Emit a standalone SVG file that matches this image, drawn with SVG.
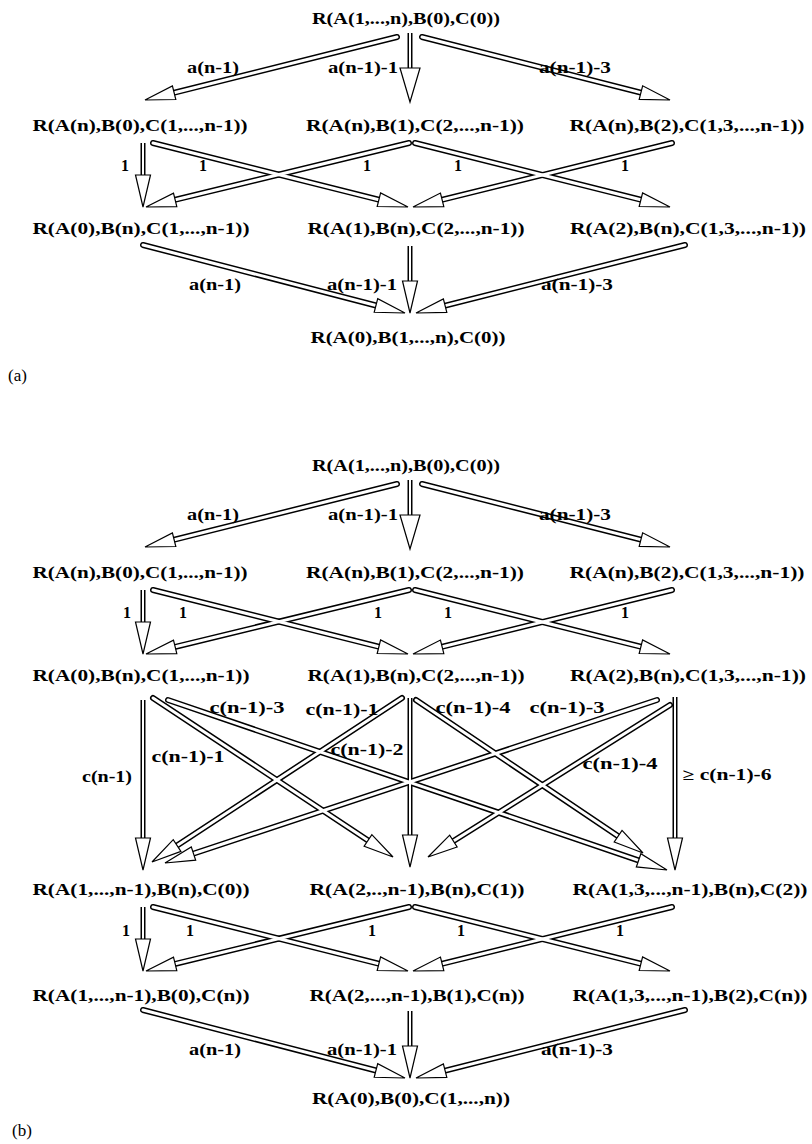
<svg xmlns="http://www.w3.org/2000/svg" width="812" height="1144" viewBox="0 0 812 1144">
  <style>
    text { font-family: "Liberation Serif", "Times New Roman", serif; font-size: 16px; font-weight: bold; fill: #000; }
    .n { text-anchor: middle; }
    .l { text-anchor: middle; }
    .tag { font-weight: normal; font-size: 17px; }
    .o { stroke: #000; stroke-width: 6; stroke-linecap: round; fill: none; }
    .ov { stroke: #000; stroke-width: 5; stroke-linecap: butt; fill: none; }
    .i { stroke: #fff; stroke-width: 3; stroke-linecap: round; fill: none; }
    .iv { stroke: #fff; stroke-width: 2; stroke-linecap: butt; fill: none; }
    .hd { fill: none; stroke: none; marker-end: url(#hd); }
    .hv { fill: none; stroke: none; marker-end: url(#hv); }
    .hs { fill: none; stroke: none; marker-end: url(#hs); }
  </style>
  <defs>
    <!-- hollow arrowheads: tip at the end of the path -->
    <marker id="hd" markerUnits="userSpaceOnUse" orient="auto" overflow="visible" refX="0" refY="0" markerWidth="1" markerHeight="1">
      <path d="M0,0 L-30,-7 L-30,7 Z" fill="#fff" stroke="#000" stroke-width="1.2"/>
    </marker>
    <marker id="hv" markerUnits="userSpaceOnUse" orient="auto" overflow="visible" refX="0" refY="0" markerWidth="1" markerHeight="1">
      <path d="M0,0 L-34,-10 L-34,10 Z" fill="#fff" stroke="#000" stroke-width="1.2"/>
    </marker>
    <marker id="hs" markerUnits="userSpaceOnUse" orient="auto" overflow="visible" refX="0" refY="0" markerWidth="1" markerHeight="1">
      <path d="M0,0 L-32,-7.5 L-32,7.5 Z" fill="#fff" stroke="#000" stroke-width="1.2"/>
    </marker>
  </defs>
  <rect width="812" height="1144" fill="#fff"/>

  <g id="connectors">
    <!-- shaft outlines -->
    <g id="shaft-outlines">
      <!-- (a) -->
      <line class="o" x1="397" y1="37" x2="168.3" y2="94.2"/>
      <line class="ov" x1="410" y1="33" x2="410" y2="72"/>
      <line class="o" x1="422" y1="37" x2="646.7" y2="94.1"/>
      <line class="ov" x1="143" y1="143" x2="143" y2="179"/>
      <line class="o" x1="153" y1="143" x2="384.7" y2="201.2"/>
      <line class="o" x1="409" y1="143" x2="169.3" y2="201.2"/>
      <line class="o" x1="415" y1="143" x2="646.7" y2="201.2"/>
      <line class="o" x1="672" y1="143" x2="436.3" y2="201.2"/>
      <line class="o" x1="143" y1="245" x2="381.8" y2="307"/>
      <line class="ov" x1="410" y1="246" x2="410" y2="285"/>
      <line class="o" x1="685" y1="245" x2="439.3" y2="307.1"/>
      <!-- (b) -->
      <line class="o" x1="397" y1="484" x2="168.3" y2="541.2"/>
      <line class="ov" x1="410" y1="480" x2="410" y2="519"/>
      <line class="o" x1="422" y1="484" x2="646.7" y2="541.1"/>
      <line class="ov" x1="143" y1="590" x2="143" y2="626"/>
      <line class="o" x1="153" y1="590" x2="384.7" y2="648.2"/>
      <line class="o" x1="409" y1="590" x2="169.3" y2="648.3"/>
      <line class="o" x1="415" y1="590" x2="646.7" y2="648.2"/>
      <line class="o" x1="672" y1="590" x2="436.3" y2="648.2"/>
      <line class="ov" x1="143" y1="700" x2="143" y2="842"/>
      <line class="ov" x1="410" y1="698" x2="410" y2="839"/>
      <line class="ov" x1="675" y1="697" x2="675" y2="842"/>
      <line class="o" x1="153" y1="698" x2="373" y2="843.7"/>
      <line class="o" x1="168" y1="700" x2="644.3" y2="862.3"/>
      <line class="o" x1="402" y1="698" x2="172.1" y2="848.8"/>
      <line class="o" x1="416" y1="700" x2="623.1" y2="839.6"/>
      <line class="o" x1="657" y1="700" x2="187.8" y2="855.5"/>
      <line class="o" x1="670" y1="705" x2="448.3" y2="844.2"/>
      <line class="ov" x1="143" y1="907" x2="143" y2="943"/>
      <line class="o" x1="153" y1="907" x2="384.7" y2="965.2"/>
      <line class="o" x1="409" y1="907" x2="169.3" y2="965.3"/>
      <line class="o" x1="415" y1="907" x2="646.7" y2="965.2"/>
      <line class="o" x1="672" y1="907" x2="436.3" y2="965.2"/>
      <line class="o" x1="143" y1="1010" x2="381.8" y2="1072"/>
      <line class="ov" x1="410" y1="1011" x2="410" y2="1050"/>
      <line class="o" x1="685" y1="1010" x2="439.3" y2="1072.1"/>
    </g>
    <!-- shaft interiors -->
    <g id="shaft-interiors">
      <line class="i" x1="397" y1="37" x2="168.3" y2="94.2"/>
      <line class="iv" x1="410" y1="33" x2="410" y2="72"/>
      <line class="i" x1="422" y1="37" x2="646.7" y2="94.1"/>
      <line class="iv" x1="143" y1="143" x2="143" y2="179"/>
      <line class="i" x1="153" y1="143" x2="384.7" y2="201.2"/>
      <line class="i" x1="409" y1="143" x2="169.3" y2="201.2"/>
      <line class="i" x1="415" y1="143" x2="646.7" y2="201.2"/>
      <line class="i" x1="672" y1="143" x2="436.3" y2="201.2"/>
      <line class="i" x1="143" y1="245" x2="381.8" y2="307"/>
      <line class="iv" x1="410" y1="246" x2="410" y2="285"/>
      <line class="i" x1="685" y1="245" x2="439.3" y2="307.1"/>
      <line class="i" x1="397" y1="484" x2="168.3" y2="541.2"/>
      <line class="iv" x1="410" y1="480" x2="410" y2="519"/>
      <line class="i" x1="422" y1="484" x2="646.7" y2="541.1"/>
      <line class="iv" x1="143" y1="590" x2="143" y2="626"/>
      <line class="i" x1="153" y1="590" x2="384.7" y2="648.2"/>
      <line class="i" x1="409" y1="590" x2="169.3" y2="648.3"/>
      <line class="i" x1="415" y1="590" x2="646.7" y2="648.2"/>
      <line class="i" x1="672" y1="590" x2="436.3" y2="648.2"/>
      <line class="iv" x1="143" y1="700" x2="143" y2="842"/>
      <line class="iv" x1="410" y1="698" x2="410" y2="839"/>
      <line class="iv" x1="675" y1="697" x2="675" y2="842"/>
      <line class="i" x1="153" y1="698" x2="373" y2="843.7"/>
      <line class="i" x1="168" y1="700" x2="644.3" y2="862.3"/>
      <line class="i" x1="402" y1="698" x2="172.1" y2="848.8"/>
      <line class="i" x1="416" y1="700" x2="623.1" y2="839.6"/>
      <line class="i" x1="657" y1="700" x2="187.8" y2="855.5"/>
      <line class="i" x1="670" y1="705" x2="448.3" y2="844.2"/>
      <line class="iv" x1="143" y1="907" x2="143" y2="943"/>
      <line class="i" x1="153" y1="907" x2="384.7" y2="965.2"/>
      <line class="i" x1="409" y1="907" x2="169.3" y2="965.3"/>
      <line class="i" x1="415" y1="907" x2="646.7" y2="965.2"/>
      <line class="i" x1="672" y1="907" x2="436.3" y2="965.2"/>
      <line class="i" x1="143" y1="1010" x2="381.8" y2="1072"/>
      <line class="iv" x1="410" y1="1011" x2="410" y2="1050"/>
      <line class="i" x1="685" y1="1010" x2="439.3" y2="1072.1"/>
    </g>
    <!-- arrowheads -->
    <g id="heads">
      <path class="hd" d="M397,37 L145,100"/>
      <path class="hv" d="M410,33 L410,102"/>
      <path class="hd" d="M422,37 L670,100"/>
      <path class="hs" d="M143,143 L143,207"/>
      <path class="hd" d="M153,143 L408,207"/>
      <path class="hd" d="M409,143 L146,207"/>
      <path class="hd" d="M415,143 L670,207"/>
      <path class="hd" d="M672,143 L413,207"/>
      <path class="hd" d="M143,245 L405,313"/>
      <path class="hs" d="M410,246 L410,313"/>
      <path class="hd" d="M685,245 L416,313"/>
      <path class="hd" d="M397,484 L145,547"/>
      <path class="hv" d="M410,480 L410,549"/>
      <path class="hd" d="M422,484 L670,547"/>
      <path class="hs" d="M143,590 L143,654"/>
      <path class="hd" d="M153,590 L408,654"/>
      <path class="hd" d="M409,590 L146,654"/>
      <path class="hd" d="M415,590 L670,654"/>
      <path class="hd" d="M672,590 L413,654"/>
      <path class="hs" d="M143,700 L143,870"/>
      <path class="hs" d="M410,698 L410,867"/>
      <path class="hs" d="M675,697 L675,870"/>
      <path class="hd" d="M153,698 L393,857"/>
      <path class="hd" d="M168,700 L667,870"/>
      <path class="hd" d="M402,698 L152,862"/>
      <path class="hd" d="M416,700 L643,853"/>
      <path class="hd" d="M657,700 L165,863"/>
      <path class="hd" d="M670,705 L428,857"/>
      <path class="hs" d="M143,907 L143,971"/>
      <path class="hd" d="M153,907 L408,971"/>
      <path class="hd" d="M409,907 L146,971"/>
      <path class="hd" d="M415,907 L670,971"/>
      <path class="hd" d="M672,907 L413,971"/>
      <path class="hd" d="M143,1010 L405,1078"/>
      <path class="hs" d="M410,1011 L410,1078"/>
      <path class="hd" d="M685,1010 L416,1078"/>
    </g>
    <!-- connector labels -->
    <g id="edge-labels">
      <text class="l" x="213" y="73" textLength="52" lengthAdjust="spacingAndGlyphs">a(n-1)</text>
      <text class="l" x="363" y="73" textLength="70" lengthAdjust="spacingAndGlyphs">a(n-1)-1</text>
      <text class="l" x="575" y="73" textLength="72" lengthAdjust="spacingAndGlyphs">a(n-1)-3</text>
      <text class="l" x="125" y="171">1</text>
      <text class="l" x="203" y="171">1</text>
      <text class="l" x="367" y="171">1</text>
      <text class="l" x="458" y="171">1</text>
      <text class="l" x="625" y="171">1</text>
      <text class="l" x="215" y="290" textLength="52" lengthAdjust="spacingAndGlyphs">a(n-1)</text>
      <text class="l" x="362" y="290" textLength="70" lengthAdjust="spacingAndGlyphs">a(n-1)-1</text>
      <text class="l" x="577" y="290" textLength="72" lengthAdjust="spacingAndGlyphs">a(n-1)-3</text>

      <text class="l" x="213" y="520" textLength="52" lengthAdjust="spacingAndGlyphs">a(n-1)</text>
      <text class="l" x="363" y="520" textLength="70" lengthAdjust="spacingAndGlyphs">a(n-1)-1</text>
      <text class="l" x="575" y="520" textLength="72" lengthAdjust="spacingAndGlyphs">a(n-1)-3</text>
      <text class="l" x="127" y="618">1</text>
      <text class="l" x="183" y="618">1</text>
      <text class="l" x="378" y="618">1</text>
      <text class="l" x="448" y="618">1</text>
      <text class="l" x="625" y="618">1</text>
      <text class="l" x="107" y="782" textLength="50" lengthAdjust="spacingAndGlyphs">c(n-1)</text>
      <text class="l" x="188" y="762" textLength="73" lengthAdjust="spacingAndGlyphs">c(n-1)-1</text>
      <text class="l" x="247" y="713" textLength="75" lengthAdjust="spacingAndGlyphs">c(n-1)-3</text>
      <text class="l" x="342" y="715" textLength="73" lengthAdjust="spacingAndGlyphs">c(n-1)-1</text>
      <text class="l" x="367" y="755" textLength="73" lengthAdjust="spacingAndGlyphs">c(n-1)-2</text>
      <text class="l" x="473" y="713" textLength="75" lengthAdjust="spacingAndGlyphs">c(n-1)-4</text>
      <text class="l" x="567" y="713" textLength="75" lengthAdjust="spacingAndGlyphs">c(n-1)-3</text>
      <text class="l" x="620" y="769" textLength="75" lengthAdjust="spacingAndGlyphs">c(n-1)-4</text>
      <text class="l" x="727" y="780" textLength="89" lengthAdjust="spacingAndGlyphs">≥ c(n-1)-6</text>
      <text class="l" x="126" y="936">1</text>
      <text class="l" x="190" y="936">1</text>
      <text class="l" x="372" y="936">1</text>
      <text class="l" x="461" y="936">1</text>
      <text class="l" x="620" y="936">1</text>
      <text class="l" x="215" y="1055" textLength="52" lengthAdjust="spacingAndGlyphs">a(n-1)</text>
      <text class="l" x="362" y="1055" textLength="70" lengthAdjust="spacingAndGlyphs">a(n-1)-1</text>
      <text class="l" x="577" y="1055" textLength="72" lengthAdjust="spacingAndGlyphs">a(n-1)-3</text>
    </g>
  </g>

  <!-- nodes, part (a) -->
  <g id="a-top"><text class="n" x="406" y="24" textLength="188" lengthAdjust="spacingAndGlyphs">R(A(1,...,n),B(0),C(0))</text></g>
  <g id="a-r2-left"><text class="n" x="140" y="131" textLength="215" lengthAdjust="spacingAndGlyphs">R(A(n),B(0),C(1,...,n-1))</text></g>
  <g id="a-r2-mid"><text class="n" x="415" y="131" textLength="218" lengthAdjust="spacingAndGlyphs">R(A(n),B(1),C(2,...,n-1))</text></g>
  <g id="a-r2-right"><text class="n" x="687" y="131" textLength="235" lengthAdjust="spacingAndGlyphs">R(A(n),B(2),C(1,3,...,n-1))</text></g>
  <g id="a-r3-left"><text class="n" x="141" y="234" textLength="217" lengthAdjust="spacingAndGlyphs">R(A(0),B(n),C(1,...,n-1))</text></g>
  <g id="a-r3-mid"><text class="n" x="416" y="234" textLength="217" lengthAdjust="spacingAndGlyphs">R(A(1),B(n),C(2,...,n-1))</text></g>
  <g id="a-r3-right"><text class="n" x="688" y="234" textLength="236" lengthAdjust="spacingAndGlyphs">R(A(2),B(n),C(1,3,...,n-1))</text></g>
  <g id="a-bottom"><text class="n" x="408" y="343" textLength="195" lengthAdjust="spacingAndGlyphs">R(A(0),B(1,...,n),C(0))</text></g>
  <g id="a-tag"><text class="tag" x="8" y="381">(a)</text></g>

  <!-- nodes, part (b) -->
  <g id="b-top"><text class="n" x="406" y="471" textLength="188" lengthAdjust="spacingAndGlyphs">R(A(1,...,n),B(0),C(0))</text></g>
  <g id="b-r2-left"><text class="n" x="140" y="578" textLength="215" lengthAdjust="spacingAndGlyphs">R(A(n),B(0),C(1,...,n-1))</text></g>
  <g id="b-r2-mid"><text class="n" x="415" y="578" textLength="218" lengthAdjust="spacingAndGlyphs">R(A(n),B(1),C(2,...,n-1))</text></g>
  <g id="b-r2-right"><text class="n" x="687" y="578" textLength="235" lengthAdjust="spacingAndGlyphs">R(A(n),B(2),C(1,3,...,n-1))</text></g>
  <g id="b-r3-left"><text class="n" x="141" y="681" textLength="217" lengthAdjust="spacingAndGlyphs">R(A(0),B(n),C(1,...,n-1))</text></g>
  <g id="b-r3-mid"><text class="n" x="416" y="681" textLength="217" lengthAdjust="spacingAndGlyphs">R(A(1),B(n),C(2,...,n-1))</text></g>
  <g id="b-r3-right"><text class="n" x="688" y="681" textLength="236" lengthAdjust="spacingAndGlyphs">R(A(2),B(n),C(1,3,...,n-1))</text></g>
  <g id="b-r4-left"><text class="n" x="141" y="895" textLength="217" lengthAdjust="spacingAndGlyphs">R(A(1,...,n-1),B(n),C(0))</text></g>
  <g id="b-r4-mid"><text class="n" x="417" y="895" textLength="215" lengthAdjust="spacingAndGlyphs">R(A(2,..,n-1),B(n),C(1))</text></g>
  <g id="b-r4-right"><text class="n" x="690" y="895" textLength="235" lengthAdjust="spacingAndGlyphs">R(A(1,3,...,n-1),B(n),C(2))</text></g>
  <g id="b-r5-left"><text class="n" x="141" y="1001" textLength="217" lengthAdjust="spacingAndGlyphs">R(A(1,...,n-1),B(0),C(n))</text></g>
  <g id="b-r5-mid"><text class="n" x="417" y="1001" textLength="215" lengthAdjust="spacingAndGlyphs">R(A(2,...,n-1),B(1),C(n))</text></g>
  <g id="b-r5-right"><text class="n" x="690" y="1001" textLength="235" lengthAdjust="spacingAndGlyphs">R(A(1,3,...,n-1),B(2),C(n))</text></g>
  <g id="b-bottom"><text class="n" x="411" y="1104" textLength="198" lengthAdjust="spacingAndGlyphs">R(A(0),B(0),C(1,...,n))</text></g>
  <g id="b-tag"><text class="tag" x="12" y="1136">(b)</text></g>
</svg>
